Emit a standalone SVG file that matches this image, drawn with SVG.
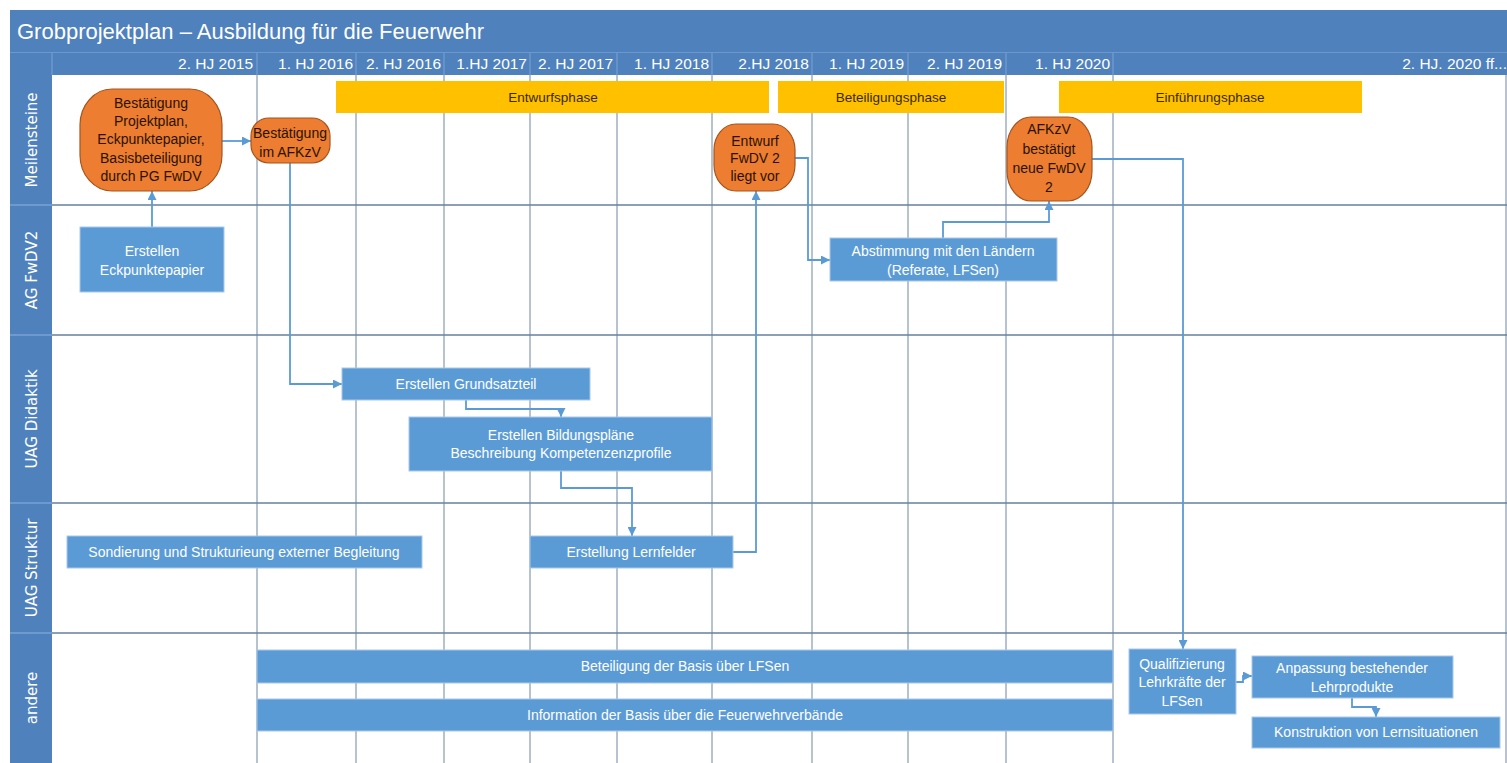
<svg xmlns="http://www.w3.org/2000/svg" width="1507" height="763" viewBox="0 0 1507 763">
<defs>
<style>
.bg{fill:#4f81bd}
.title{font-family:"Liberation Sans",Arial,sans-serif;font-size:22px;fill:#fff}
.hdr{font-family:"Liberation Sans",Arial,sans-serif;font-size:15.5px;fill:#fff;text-anchor:end}
.hsep{stroke:#7aa3d4;stroke-width:1}
.lane{font-family:"DejaVu Sans",Verdana,sans-serif;font-size:15px;fill:#fff;text-anchor:middle}
.lsep{stroke:#8fb2dc;stroke-width:1}
.grid{stroke:#6e869f;stroke-width:1;fill:none}
.hline{stroke:#64819f;stroke-width:1.3}
.box{fill:#5b9bd5;stroke:#a9c8ea;stroke-width:1}
.bt{font-family:"Liberation Sans",Arial,sans-serif;font-size:14px;fill:#fff;text-anchor:middle}
.ms{fill:#ed7d31;stroke:#a4551f;stroke-width:1.2}
.mt{font-family:"Liberation Sans",Arial,sans-serif;font-size:14px;fill:#2a1200;text-anchor:middle}
.phase{fill:#ffc000}
.pt{font-family:"Liberation Sans",Arial,sans-serif;font-size:13.5px;fill:#3a2a00;text-anchor:middle}
.conn{fill:none;stroke:#5b9bd5;stroke-width:1.8;marker-end:url(#arr)}
</style>
<marker id="arr" viewBox="0 0 10 10" refX="10" refY="5" markerWidth="10" markerHeight="9" markerUnits="userSpaceOnUse" orient="auto">
<path d="M0,0 L10,5 L0,10 z" fill="#5b9bd5"/>
</marker>
</defs>
<rect x="0" y="0" width="1507" height="763" fill="#fff"/>

<g id="frame">
<rect class="bg" x="10" y="10" width="1497" height="42"/>
<text class="title" x="17" y="39">Grobprojektplan – Ausbildung für die Feuerwehr</text>
<rect class="bg" x="10" y="52" width="1497" height="23"/>
<line x1="10" y1="52.5" x2="1507" y2="52.5" stroke="#6d98cc" stroke-width="1"/>
<rect class="bg" x="10" y="75" width="42" height="688"/>
</g>

<g id="header">
<line class="hsep" x1="52" y1="53" x2="52" y2="75"/>
<line class="hsep" x1="257" y1="53" x2="257" y2="75"/>
<line class="hsep" x1="356" y1="53" x2="356" y2="75"/>
<line class="hsep" x1="444" y1="53" x2="444" y2="75"/>
<line class="hsep" x1="530" y1="53" x2="530" y2="75"/>
<line class="hsep" x1="617" y1="53" x2="617" y2="75"/>
<line class="hsep" x1="712" y1="53" x2="712" y2="75"/>
<line class="hsep" x1="812" y1="53" x2="812" y2="75"/>
<line class="hsep" x1="908" y1="53" x2="908" y2="75"/>
<line class="hsep" x1="1006" y1="53" x2="1006" y2="75"/>
<line class="hsep" x1="1113" y1="53" x2="1113" y2="75"/>
<text class="hdr" x="253" y="69">2. HJ 2015</text>
<text class="hdr" x="353" y="69">1. HJ 2016</text>
<text class="hdr" x="441" y="69">2. HJ 2016</text>
<text class="hdr" x="527" y="69">1.HJ 2017</text>
<text class="hdr" x="613" y="69">2. HJ 2017</text>
<text class="hdr" x="709" y="69">1. HJ 2018</text>
<text class="hdr" x="809" y="69">2.HJ 2018</text>
<text class="hdr" x="904" y="69">1. HJ 2019</text>
<text class="hdr" x="1002" y="69">2. HJ 2019</text>
<text class="hdr" x="1110" y="69">1. HJ 2020</text>
<text class="hdr" x="1507" y="69">2. HJ. 2020 ff...</text>
</g>

<g id="grid">
<line class="grid" x1="257" y1="75" x2="257" y2="763"/>
<line class="grid" x1="356" y1="75" x2="356" y2="763"/>
<line class="grid" x1="444" y1="75" x2="444" y2="763"/>
<line class="grid" x1="530" y1="75" x2="530" y2="763"/>
<line class="grid" x1="617" y1="75" x2="617" y2="763"/>
<line class="grid" x1="712" y1="75" x2="712" y2="763"/>
<line class="grid" x1="812" y1="75" x2="812" y2="763"/>
<line class="grid" x1="908" y1="75" x2="908" y2="763"/>
<line class="grid" x1="1006" y1="75" x2="1006" y2="763"/>
<line class="grid" x1="1113" y1="75" x2="1113" y2="763"/>
<line class="grid" x1="1506" y1="75" x2="1506" y2="763"/>
<line class="hline" x1="52" y1="205" x2="1507" y2="205"/>
<line class="hline" x1="52" y1="335" x2="1507" y2="335"/>
<line class="hline" x1="52" y1="503" x2="1507" y2="503"/>
<line class="hline" x1="52" y1="633" x2="1507" y2="633"/>
</g>

<g id="lanes">
<line class="lsep" x1="10" y1="205" x2="52" y2="205"/>
<line class="lsep" x1="10" y1="335" x2="52" y2="335"/>
<line class="lsep" x1="10" y1="503" x2="52" y2="503"/>
<line class="lsep" x1="10" y1="633" x2="52" y2="633"/>
<text class="lane" transform="translate(36.5,140) rotate(-90)">Meilensteine</text>
<text class="lane" transform="translate(36.5,270) rotate(-90)">AG FwDV2</text>
<text class="lane" transform="translate(36.5,419) rotate(-90)">UAG Didaktik</text>
<text class="lane" transform="translate(36.5,568) rotate(-90)">UAG Struktur</text>
<text class="lane" transform="translate(36.5,698) rotate(-90)">andere</text>
</g>

<g id="phase-entwurf">
<rect class="phase" x="336" y="81" width="433" height="32"/>
<text class="pt" x="553" y="102">Entwurfsphase</text>
</g>
<g id="phase-beteiligung">
<rect class="phase" x="778" y="81" width="226" height="32"/>
<text class="pt" x="891" y="102">Beteiligungsphase</text>
</g>
<g id="phase-einfuehrung">
<rect class="phase" x="1059" y="81" width="303" height="32"/>
<text class="pt" x="1210" y="102">Einführungsphase</text>
</g>

<g id="connectors">
<path class="conn" d="M152,227 V191"/>
<path class="conn" d="M222,141 H251"/>
<path class="conn" d="M290,163 V384 H342"/>
<path class="conn" d="M466,400 V409 H561 V417"/>
<path class="conn" d="M561,471 V488 H632 V536"/>
<path class="conn" d="M733,552 H756 V191"/>
<path class="conn" d="M795,158 H808 V260 H830"/>
<path class="conn" d="M943,238 V222 H1049 V201"/>
<path class="conn" d="M1092,159 H1183 V649"/>
<path class="conn" d="M1236,682 H1243 V676 H1252"/>
<path class="conn" d="M1352,698 V707 H1376 V717"/>
</g>

<g id="m-bestaetigung-projektplan">
<rect class="ms" x="80" y="89" width="142" height="102" rx="32" ry="36"/>
<text class="mt" x="151" y="108">Bestätigung</text>
<text class="mt" x="151" y="126">Projektplan,</text>
<text class="mt" x="151" y="144">Eckpunktepapier,</text>
<text class="mt" x="151" y="163">Basisbeteiligung</text>
<text class="mt" x="151" y="181">durch PG FwDV</text>
</g>
<g id="m-bestaetigung-afkzv">
<rect class="ms" x="251" y="118" width="79" height="45" rx="18" ry="18"/>
<text class="mt" x="290" y="138">Bestätigung</text>
<text class="mt" x="290" y="157">im AFKzV</text>
</g>
<g id="m-entwurf">
<rect class="ms" x="714" y="124" width="81" height="67" rx="22" ry="26"/>
<text class="mt" x="755" y="146">Entwurf</text>
<text class="mt" x="755" y="163">FwDV 2</text>
<text class="mt" x="755" y="181">liegt vor</text>
</g>
<g id="m-afkzv-bestaetigt">
<rect class="ms" x="1007" y="117" width="85" height="84" rx="24" ry="30"/>
<text class="mt" x="1049" y="134">AFKzV</text>
<text class="mt" x="1049" y="154">bestätigt</text>
<text class="mt" x="1049" y="173">neue FwDV</text>
<text class="mt" x="1049" y="192">2</text>
</g>

<g id="n-eckpunktepapier">
<rect class="box" x="80" y="227" width="144" height="65"/>
<text class="bt" x="152" y="256">Erstellen</text>
<text class="bt" x="152" y="275">Eckpunktepapier</text>
</g>
<g id="n-abstimmung">
<rect class="box" x="830" y="238" width="227" height="43"/>
<text class="bt" x="943" y="256">Abstimmung mit den Ländern</text>
<text class="bt" x="943" y="275">(Referate, LFSen)</text>
</g>
<g id="n-grundsatzteil">
<rect class="box" x="342" y="368" width="248" height="32"/>
<text class="bt" x="466" y="389">Erstellen Grundsatzteil</text>
</g>
<g id="n-bildungsplaene">
<rect class="box" x="409" y="417" width="303" height="54"/>
<text class="bt" x="561" y="440">Erstellen Bildungspläne</text>
<text class="bt" x="561" y="458">Beschreibung Kompetenzenzprofile</text>
</g>
<g id="n-sondierung">
<rect class="box" x="67" y="536" width="355" height="32"/>
<text class="bt" x="244" y="557">Sondierung und Strukturieung externer Begleitung</text>
</g>
<g id="n-lernfelder">
<rect class="box" x="530" y="536" width="203" height="32"/>
<text class="bt" x="631" y="557">Erstellung Lernfelder</text>
</g>
<g id="n-beteiligung-basis">
<rect class="box" x="257" y="650" width="856" height="33"/>
<text class="bt" x="685" y="671">Beteiligung der Basis über LFSen</text>
</g>
<g id="n-information-basis">
<rect class="box" x="257" y="699" width="856" height="32"/>
<text class="bt" x="685" y="720">Information der Basis über die Feuerwehrverbände</text>
</g>
<g id="n-qualifizierung">
<rect class="box" x="1129" y="649" width="107" height="65"/>
<text class="bt" x="1182" y="669">Qualifizierung</text>
<text class="bt" x="1182" y="687">Lehrkräfte der</text>
<text class="bt" x="1182" y="706">LFSen</text>
</g>
<g id="n-anpassung">
<rect class="box" x="1252" y="656" width="201" height="42"/>
<text class="bt" x="1352" y="673">Anpassung bestehender</text>
<text class="bt" x="1352" y="692">Lehrprodukte</text>
</g>
<g id="n-konstruktion">
<rect class="box" x="1252" y="717" width="248" height="31"/>
<text class="bt" x="1376" y="737">Konstruktion von Lernsituationen</text>
</g>
</svg>
